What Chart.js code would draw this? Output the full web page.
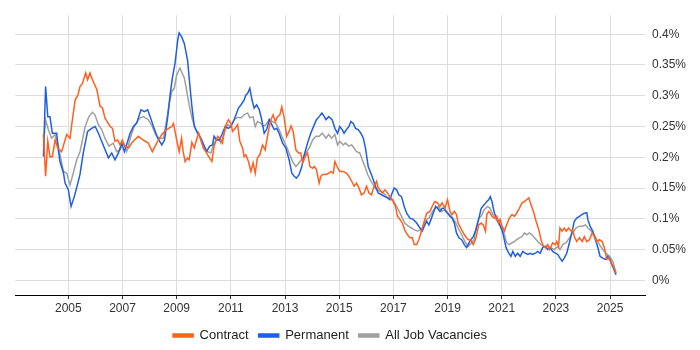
<!DOCTYPE html>
<html>
<head>
<meta charset="utf-8">
<script src="https://cdn.jsdelivr.net/npm/chart.js@4.4.1/dist/chart.umd.min.js"></script>
<style>
  body { margin: 0; background: #fff; }
  #wrap { width: 700px; height: 350px; }
</style>
</head>
<body>
<div id="wrap"><canvas id="chart" width="700" height="350"></canvas></div>
<script>
// share of job ads (%), dates as decimal years
const contract_dates = [
    2004.08, 2004.16, 2004.24, 2004.32, 2004.41, 2004.51, 2004.61, 2004.75, 2004.94,
    2005.06, 2005.15, 2005.25, 2005.35, 2005.43, 2005.52, 2005.64, 2005.71, 2005.80, 2005.89,
    2006.05, 2006.17, 2006.26, 2006.35, 2006.54, 2006.63, 2006.72, 2006.82, 2006.91, 2006.99,
    2007.09, 2007.22, 2007.34, 2007.58, 2007.77, 2007.95,
    2008.10, 2008.26, 2008.45, 2008.63, 2008.82, 2008.88,
    2009.00, 2009.09, 2009.18, 2009.24, 2009.31, 2009.40, 2009.46, 2009.56, 2009.65, 2009.73, 2009.81, 2009.89, 2009.98,
    2010.08, 2010.18, 2010.30, 2010.38, 2010.51, 2010.59, 2010.69, 2010.79, 2010.91,
    2011.00, 2011.06, 2011.16, 2011.25, 2011.33, 2011.43, 2011.49, 2011.55, 2011.65, 2011.74, 2011.82, 2011.90, 2011.98,
    2012.07, 2012.17, 2012.27, 2012.32, 2012.42, 2012.48, 2012.56, 2012.64, 2012.72, 2012.81, 2012.88, 2012.97,
    2013.06, 2013.15, 2013.22, 2013.30, 2013.40, 2013.50, 2013.58, 2013.65, 2013.74, 2013.83, 2013.92,
    2014.02, 2014.08, 2014.16, 2014.26, 2014.32, 2014.38, 2014.51, 2014.61, 2014.69, 2014.78, 2014.84, 2014.94,
    2015.02, 2015.15, 2015.27, 2015.36, 2015.46, 2015.55, 2015.64, 2015.73, 2015.82, 2015.92,
    2016.01, 2016.10, 2016.19, 2016.29, 2016.38, 2016.44, 2016.50, 2016.59, 2016.69, 2016.78, 2016.87, 2016.99,
    2017.08, 2017.15, 2017.24, 2017.33, 2017.42, 2017.52, 2017.61, 2017.70, 2017.77, 2017.86, 2017.94,
    2018.04, 2018.14, 2018.23, 2018.35, 2018.43, 2018.53, 2018.63, 2018.72, 2018.80, 2018.90,
    2019.00, 2019.09, 2019.17, 2019.25, 2019.33, 2019.39, 2019.52, 2019.62, 2019.70, 2019.76, 2019.86, 2019.95,
    2020.05, 2020.15, 2020.24, 2020.32, 2020.40, 2020.45, 2020.52, 2020.58, 2020.64, 2020.73, 2020.82, 2020.89, 2020.94,
    2021.01, 2021.10, 2021.18, 2021.28, 2021.38, 2021.47, 2021.55, 2021.65, 2021.75, 2021.84, 2021.92,
    2022.00, 2022.08, 2022.17, 2022.27, 2022.37, 2022.45, 2022.54, 2022.61, 2022.70, 2022.76, 2022.82, 2022.88, 2022.98,
    2023.03, 2023.10, 2023.15, 2023.23, 2023.31, 2023.38, 2023.47, 2023.56, 2023.62, 2023.68, 2023.77, 2023.87, 2023.97,
    2024.05, 2024.14, 2024.24, 2024.34, 2024.42, 2024.51, 2024.61, 2024.71, 2024.79, 2024.88, 2024.95,
    2025.04, 2025.12, 2025.22
];
const contract_values = [
    0.237, 0.169, 0.226, 0.201, 0.201, 0.228, 0.215, 0.209, 0.237,
    0.231, 0.261, 0.293, 0.301, 0.315, 0.320, 0.337, 0.326, 0.337, 0.326,
    0.310, 0.283, 0.280, 0.264, 0.250, 0.247, 0.226, 0.228, 0.220, 0.228,
    0.218, 0.215, 0.223, 0.234, 0.228, 0.223,
    0.209, 0.223, 0.237, 0.245, 0.250, 0.255,
    0.228, 0.209, 0.231, 0.209, 0.193, 0.199, 0.196, 0.224, 0.215, 0.228, 0.239, 0.228, 0.215,
    0.209, 0.201, 0.193, 0.218, 0.234, 0.231, 0.223, 0.250, 0.261,
    0.255, 0.242, 0.247, 0.253, 0.226, 0.215, 0.201, 0.204, 0.193, 0.177, 0.191, 0.174, 0.199,
    0.204, 0.220, 0.212, 0.226, 0.250, 0.261, 0.269, 0.258, 0.266, 0.269, 0.282, 0.264,
    0.234, 0.242, 0.251, 0.242, 0.212, 0.207, 0.207, 0.191, 0.201, 0.207, 0.185,
    0.182, 0.185, 0.180, 0.158, 0.169, 0.172, 0.172, 0.174, 0.177, 0.174, 0.193, 0.183,
    0.177, 0.177, 0.174, 0.169, 0.161, 0.153, 0.158, 0.150, 0.139, 0.142,
    0.153, 0.142, 0.139, 0.153, 0.161, 0.150, 0.147, 0.142, 0.147, 0.142, 0.136, 0.128,
    0.120, 0.104, 0.099, 0.093, 0.082, 0.074, 0.069, 0.069, 0.058, 0.058, 0.066,
    0.080, 0.096, 0.109, 0.112, 0.120, 0.128, 0.126, 0.120, 0.126, 0.117,
    0.131, 0.112, 0.107, 0.112, 0.107, 0.093, 0.082, 0.074, 0.069, 0.066, 0.066, 0.058,
    0.069, 0.090, 0.093, 0.090, 0.080, 0.107, 0.112, 0.109, 0.104, 0.101, 0.104, 0.093, 0.099,
    0.088, 0.080, 0.090, 0.101, 0.107, 0.104, 0.109, 0.117, 0.126, 0.128, 0.131,
    0.134, 0.123, 0.112, 0.096, 0.082, 0.066, 0.055, 0.053, 0.058, 0.050, 0.055, 0.061, 0.058,
    0.063, 0.055, 0.085, 0.080, 0.085, 0.080, 0.085, 0.080, 0.082, 0.071, 0.063, 0.069, 0.063,
    0.071, 0.063, 0.066, 0.077, 0.071, 0.063, 0.066, 0.063, 0.053, 0.034, 0.036,
    0.028, 0.023, 0.012
];

const permanent_dates = [
    2004.08, 2004.16, 2004.24, 2004.32, 2004.41, 2004.57, 2004.63, 2004.69, 2004.82, 2004.88,
    2005.00, 2005.10, 2005.22, 2005.35, 2005.43, 2005.55, 2005.71, 2005.86, 2005.99,
    2006.11, 2006.23, 2006.33, 2006.48, 2006.60, 2006.72, 2006.85, 2006.97,
    2007.07, 2007.28, 2007.40, 2007.52, 2007.68, 2007.81, 2007.93,
    2008.02, 2008.14, 2008.30, 2008.45, 2008.55, 2008.67, 2008.75, 2008.84, 2008.94,
    2009.04, 2009.09, 2009.18, 2009.28, 2009.40, 2009.49, 2009.56, 2009.65, 2009.77, 2009.89,
    2010.02, 2010.10, 2010.22, 2010.32, 2010.38, 2010.47, 2010.57, 2010.67, 2010.79, 2010.91,
    2011.00, 2011.12, 2011.28, 2011.37, 2011.49, 2011.55, 2011.62, 2011.70, 2011.78, 2011.86, 2011.95,
    2012.05, 2012.14, 2012.23, 2012.32, 2012.42, 2012.51, 2012.60, 2012.69, 2012.78, 2012.91,
    2013.03, 2013.15, 2013.25, 2013.34, 2013.42, 2013.52, 2013.62, 2013.71, 2013.83, 2013.95,
    2014.08, 2014.16, 2014.26, 2014.36, 2014.45, 2014.51, 2014.61, 2014.74, 2014.84, 2014.94,
    2015.02, 2015.11, 2015.18, 2015.27, 2015.36, 2015.43, 2015.52, 2015.60, 2015.70, 2015.80, 2015.89, 2015.97,
    2016.07, 2016.17, 2016.26, 2016.34, 2016.44, 2016.56, 2016.69, 2016.78, 2016.87, 2016.93,
    2017.03, 2017.12, 2017.20, 2017.30, 2017.40, 2017.49, 2017.61, 2017.73, 2017.86, 2017.98,
    2018.07, 2018.14, 2018.23, 2018.31, 2018.39, 2018.47, 2018.56, 2018.63, 2018.72, 2018.80, 2018.88, 2018.93,
    2019.00, 2019.09, 2019.17, 2019.25, 2019.33, 2019.42, 2019.52, 2019.62, 2019.70, 2019.76, 2019.86, 2019.95,
    2020.05, 2020.15, 2020.24, 2020.36, 2020.45, 2020.52, 2020.58, 2020.64, 2020.73, 2020.82, 2020.91,
    2021.04, 2021.16, 2021.26, 2021.34, 2021.41, 2021.50, 2021.59, 2021.68, 2021.78, 2021.87, 2021.96,
    2022.05, 2022.14, 2022.24, 2022.33, 2022.42, 2022.51, 2022.61, 2022.70, 2022.79, 2022.88, 2022.98,
    2023.07, 2023.15, 2023.23, 2023.31, 2023.40, 2023.50, 2023.60, 2023.68, 2023.77, 2023.87, 2023.97,
    2024.05, 2024.14, 2024.18, 2024.26, 2024.36, 2024.46, 2024.54, 2024.63, 2024.73, 2024.83, 2024.91,
    2025.00, 2025.07, 2025.12, 2025.22
];
const permanent_values = [
    0.201, 0.315, 0.266, 0.266, 0.239, 0.239, 0.212, 0.193, 0.174, 0.158,
    0.147, 0.120, 0.136, 0.158, 0.172, 0.207, 0.242, 0.247, 0.250,
    0.239, 0.226, 0.215, 0.199, 0.207, 0.196, 0.207, 0.223,
    0.209, 0.239, 0.250, 0.255, 0.277, 0.274, 0.277,
    0.266, 0.250, 0.231, 0.220, 0.228, 0.266, 0.299, 0.329, 0.353,
    0.391, 0.402, 0.396, 0.385, 0.358, 0.315, 0.283, 0.250, 0.239, 0.231,
    0.218, 0.209, 0.218, 0.220, 0.234, 0.228, 0.228, 0.237, 0.250, 0.247,
    0.250, 0.261, 0.280, 0.285, 0.293, 0.301, 0.304, 0.312, 0.293, 0.280, 0.285,
    0.277, 0.261, 0.239, 0.245, 0.261, 0.253, 0.245, 0.247, 0.239, 0.223,
    0.215, 0.196, 0.174, 0.169, 0.166, 0.172, 0.185, 0.204, 0.223, 0.239,
    0.253, 0.261, 0.266, 0.272, 0.266, 0.261, 0.266, 0.261, 0.247, 0.239,
    0.250, 0.245, 0.239, 0.245, 0.250, 0.258, 0.255, 0.247, 0.245, 0.239, 0.231, 0.215,
    0.185, 0.174, 0.163, 0.153, 0.142, 0.139, 0.136, 0.134, 0.131, 0.139,
    0.150, 0.147, 0.139, 0.136, 0.120, 0.109, 0.101, 0.099, 0.093, 0.085,
    0.080, 0.088, 0.096, 0.090, 0.099, 0.109, 0.120, 0.117, 0.112, 0.117, 0.117, 0.112,
    0.109, 0.104, 0.101, 0.093, 0.077, 0.069, 0.066, 0.058, 0.053, 0.058, 0.066, 0.071,
    0.082, 0.099, 0.117, 0.123, 0.128, 0.131, 0.136, 0.128, 0.109, 0.101, 0.093,
    0.077, 0.053, 0.044, 0.039, 0.047, 0.039, 0.044, 0.039, 0.047, 0.044, 0.042,
    0.044, 0.042, 0.044, 0.047, 0.044, 0.053, 0.055, 0.050, 0.053, 0.047, 0.044,
    0.042, 0.036, 0.031, 0.036, 0.044, 0.061, 0.080, 0.096, 0.101, 0.104, 0.107,
    0.109, 0.110, 0.099, 0.088, 0.080, 0.066, 0.055, 0.039, 0.036, 0.034, 0.039,
    0.034, 0.025, 0.020, 0.009
];

const all_dates = [
    2004.08, 2004.16, 2004.26, 2004.38, 2004.51, 2004.63, 2004.73, 2004.82, 2004.94,
    2005.06, 2005.18, 2005.31, 2005.43, 2005.52, 2005.62, 2005.76, 2005.89, 2005.98,
    2006.11, 2006.23, 2006.35, 2006.50, 2006.66, 2006.78, 2006.91,
    2007.03, 2007.15, 2007.34, 2007.46, 2007.65, 2007.77, 2007.95,
    2008.10, 2008.22, 2008.35, 2008.51, 2008.63, 2008.73, 2008.82, 2008.91,
    2009.00, 2009.12, 2009.28, 2009.34, 2009.46, 2009.58, 2009.71, 2009.83, 2009.98,
    2010.14, 2010.26, 2010.38, 2010.51, 2010.63, 2010.75, 2010.88,
    2011.00, 2011.12, 2011.25, 2011.37, 2011.49, 2011.62, 2011.70, 2011.82, 2011.90, 2011.98,
    2012.11, 2012.19, 2012.29, 2012.42, 2012.54, 2012.66, 2012.78, 2012.91,
    2013.03, 2013.15, 2013.28, 2013.40, 2013.52, 2013.65, 2013.77, 2013.89,
    2014.02, 2014.14, 2014.26, 2014.38, 2014.51, 2014.61, 2014.72, 2014.84, 2014.94,
    2015.02, 2015.15, 2015.23, 2015.36, 2015.46, 2015.55, 2015.64, 2015.76, 2015.85, 2015.95,
    2016.05, 2016.17, 2016.26, 2016.38, 2016.50, 2016.63, 2016.75, 2016.87, 2016.99,
    2017.08, 2017.18, 2017.30, 2017.42, 2017.55, 2017.67, 2017.77, 2017.89,
    2018.04, 2018.14, 2018.23, 2018.31, 2018.41, 2018.53, 2018.66, 2018.78, 2018.90,
    2019.03, 2019.15, 2019.27, 2019.39, 2019.52, 2019.64, 2019.76, 2019.89, 2019.98,
    2020.05, 2020.15, 2020.24, 2020.36, 2020.48, 2020.57, 2020.67, 2020.79, 2020.91,
    2021.01, 2021.10, 2021.18, 2021.28, 2021.38, 2021.47, 2021.55, 2021.65, 2021.75, 2021.84, 2021.92,
    2022.02, 2022.12, 2022.21, 2022.33, 2022.45, 2022.58, 2022.70, 2022.82, 2022.94,
    2023.07, 2023.15, 2023.25, 2023.38, 2023.50, 2023.62, 2023.74, 2023.87, 2023.99,
    2024.09, 2024.18, 2024.26, 2024.36, 2024.48, 2024.61, 2024.73, 2024.85, 2024.98,
    2025.10, 2025.22
];
const all_values = [
    0.218, 0.261, 0.245, 0.231, 0.237, 0.218, 0.196, 0.177, 0.174,
    0.155, 0.174, 0.196, 0.209, 0.228, 0.250, 0.266, 0.273, 0.269,
    0.253, 0.245, 0.231, 0.218, 0.223, 0.209, 0.212,
    0.223, 0.209, 0.239, 0.253, 0.264, 0.266, 0.261,
    0.250, 0.237, 0.231, 0.231, 0.261, 0.288, 0.307, 0.312,
    0.334, 0.345, 0.329, 0.315, 0.285, 0.261, 0.245, 0.237, 0.220,
    0.209, 0.207, 0.223, 0.231, 0.223, 0.239, 0.253,
    0.250, 0.261, 0.265, 0.264, 0.269, 0.272, 0.264, 0.266, 0.250, 0.258,
    0.255, 0.250, 0.253, 0.261, 0.258, 0.255, 0.245, 0.231,
    0.220, 0.207, 0.193, 0.185, 0.191, 0.199, 0.207, 0.215,
    0.228, 0.234, 0.234, 0.239, 0.231, 0.237, 0.231, 0.237, 0.220,
    0.226, 0.220, 0.223, 0.218, 0.220, 0.215, 0.209, 0.207, 0.196, 0.185,
    0.172, 0.161, 0.155, 0.147, 0.145, 0.142, 0.136, 0.134, 0.131,
    0.123, 0.115, 0.104, 0.093, 0.088, 0.085, 0.082, 0.080,
    0.082, 0.093, 0.099, 0.101, 0.109, 0.117, 0.120, 0.112, 0.115,
    0.109, 0.104, 0.096, 0.085, 0.074, 0.063, 0.055, 0.061, 0.066,
    0.085, 0.101, 0.104, 0.115, 0.120, 0.117, 0.107, 0.099, 0.090,
    0.085, 0.074, 0.061, 0.058, 0.061, 0.063, 0.066, 0.069, 0.071, 0.077, 0.074,
    0.077, 0.074, 0.069, 0.063, 0.058, 0.055, 0.055, 0.053, 0.050,
    0.055, 0.050, 0.058, 0.061, 0.069, 0.077, 0.085, 0.088, 0.088,
    0.090, 0.085, 0.082, 0.077, 0.069, 0.058, 0.050, 0.044, 0.039,
    0.031, 0.012
];

const year_ticks = [2005, 2007, 2009, 2011, 2013, 2015, 2017, 2019, 2021, 2023, 2025];
const pct_ticks = [0, 0.05, 0.1, 0.15, 0.2, 0.25, 0.3, 0.35, 0.4];

function to_points(dates, values) {
    return dates.map((d, i) => ({ x: d, y: values[i] }));
}

// centre the legend under the plot area, not the whole canvas
const legend_under_plot = {
    id: 'legend_under_plot',
    afterLayout(chart) {
        const lg = chart.legend;
        lg.left = chart.chartArea.left;
        lg.right = chart.chartArea.right;
        lg.top += 2;
        lg.bottom += 2;
    }
};

Chart.defaults.font.family = "Arial, 'Liberation Sans', sans-serif";
Chart.defaults.font.size = 12;
Chart.defaults.color = '#333';

new Chart(document.getElementById('chart'), {
    type: 'line',
    data: {
        datasets: [{
            label: 'Contract',
            data: to_points(contract_dates, contract_values),
            borderColor: '#ff5f1f',
            backgroundColor: '#ff5f1f',
            borderWidth: 1.5,
            pointRadius: 0,
            fill: false
        }, {
            label: 'Permanent',
            data: to_points(permanent_dates, permanent_values),
            borderColor: '#1f5fe0',
            backgroundColor: '#1f5fe0',
            borderWidth: 1.5,
            pointRadius: 0,
            fill: false
        }, {
            label: 'All Job Vacancies',
            data: to_points(all_dates, all_values),
            borderColor: '#a0a0a0',
            backgroundColor: '#a0a0a0',
            borderWidth: 1.5,
            pointRadius: 0,
            fill: false
        }]
    },
    options: {
        responsive: false,
        animation: false,
        layout: { padding: { left: 15, top: 15, right: 0, bottom: 0 } },
        plugins: {
            legend: {
                position: 'bottom',
                labels: { boxWidth: 20, boxHeight: 3, padding: 10, color: '#222', font: { size: 13 } }
            },
            tooltip: { enabled: false }
        },
        scales: {
            x: {
                type: 'linear',
                min: 2003.03,
                max: 2026.29,
                afterBuildTicks: axis => { axis.ticks = year_ticks.map(v => ({ value: v })); },
                afterFit: axis => { axis.height = 22; },
                ticks: { callback: v => String(v), maxRotation: 0, autoSkip: false, padding: 2 },
                grid: { color: '#dddddd', tickColor: '#333', tickLength: 4 },
                border: { color: '#000', width: 1 }
            },
            y: {
                position: 'right',
                min: -0.0239,
                max: 0.4312,
                afterBuildTicks: axis => { axis.ticks = pct_ticks.map(v => ({ value: v })); },
                afterFit: axis => { axis.width = 55; },
                ticks: { callback: v => (+v.toFixed(2)) + '%', padding: 7 },
                grid: { color: '#dddddd', drawTicks: false },
                border: { display: false }
            }
        }
    },
    plugins: [legend_under_plot]
});
</script>
</body>
</html>
